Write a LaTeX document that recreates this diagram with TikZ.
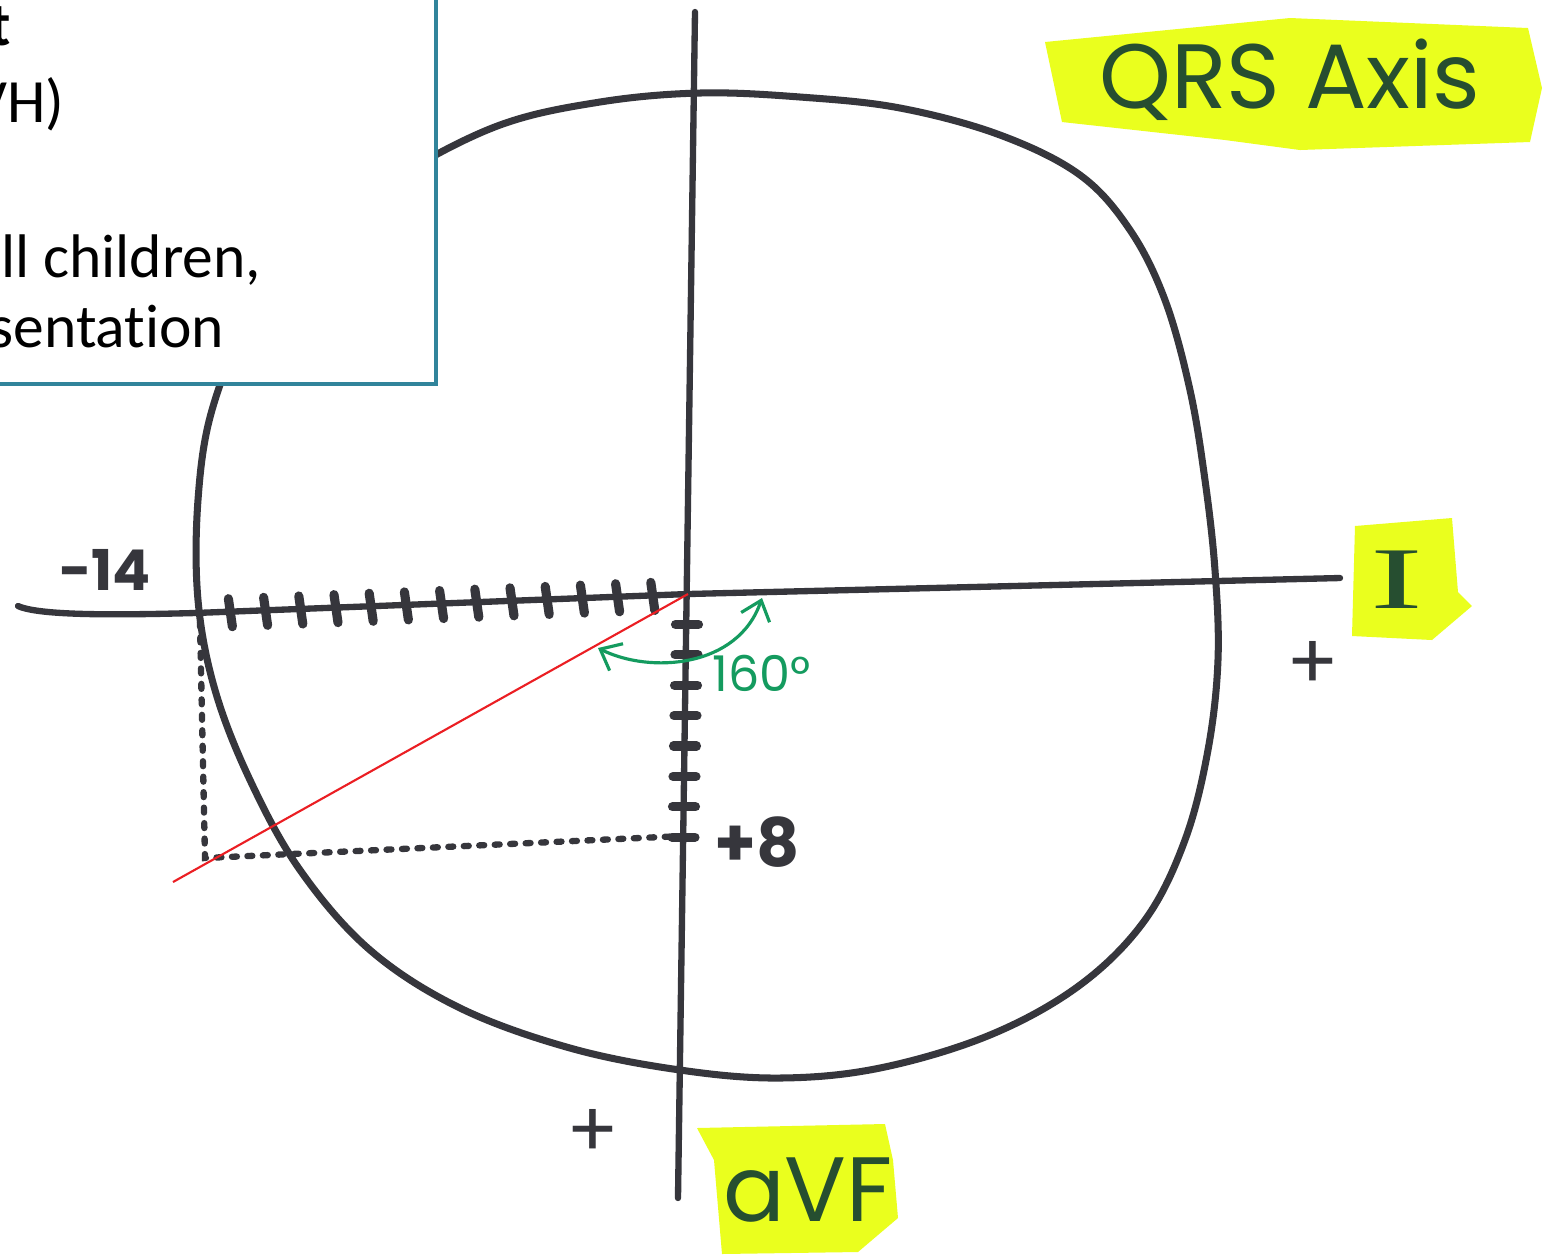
\documentclass[tikz,border=0pt]{standalone}
\usepackage{fontspec}
\setmainfont[Ligatures=CommonOff]{Carlito}
\newfontfamily\handfont{Poppins}
\newfontfamily\romanhand{Liberation Serif}
\usetikzlibrary{arrows.meta,positioning}

\definecolor{pen}{RGB}{54,54,60}
\definecolor{boxedge}{RGB}{49,132,155}
\definecolor{marker}{RGB}{234,255,30}
\definecolor{inkgreen}{RGB}{38,78,48}
\definecolor{anglegreen}{RGB}{20,155,95}
\definecolor{vectorred}{RGB}{235,30,35}

\begin{document}
\begin{tikzpicture}[
  x=0.01cm, y=-0.01cm,
  loopline/.style={draw=pen, line width=2pt, line cap=round, line join=round},
  axisline/.style={draw=pen, line width=1.8pt, line cap=round},
  tickmark/.style={draw=pen, line width=2.6pt, line cap=round},
  dotline/.style={draw=pen, line width=1.8pt, line cap=round, dash pattern=on 1.4pt off 3pt},
  vectorline/.style={draw=vectorred, line width=0.6pt},
  anglearrow/.style={draw=anglegreen, line width=0.9pt, {Straight Barb[length=1.8mm,width=3mm]}-{Straight Barb[length=1.8mm,width=3mm]}},
  highlight/.style={fill=marker, draw=none},
  infobox/.style={draw=boxedge, line width=1.15pt, fill=white, inner sep=0pt},
  boxtext/.style={font=\fontsize{17.5}{21}\selectfont, inner sep=0pt, anchor=base east},
  penlabel/.style={font=\handfont\bfseries\fontsize{16}{18}\selectfont, text=pen, inner sep=0pt},
  leadlabel/.style={font=\handfont\fontsize{26}{30}\selectfont, text=inkgreen, inner sep=0pt}
]
\useasboundingbox[fill=white] (0,0) rectangle (1547,1256);

% marker patches behind the lead names
\fill[highlight] (1045,42) -- (1290,18) -- (1528,28) -- (1542,88) -- (1530,142) -- (1300,150) -- (1225,140) -- (1062,122) -- cycle;
\fill[highlight] (1355,526) -- (1452,518) -- (1458,592) -- (1472,606) -- (1432,640) -- (1352,636) -- cycle;
\fill[highlight] (697,1128) -- (885,1124) -- (893,1160) -- (898,1218) -- (858,1252) -- (722,1254) -- (714,1160) -- cycle;

% the hexaxial loop
\draw[loopline] plot[smooth cycle, tension=0.6] coordinates {
  (700,93) (800,97) (900,108) (1000,135) (1080,175) (1130,230) (1165,300)
  (1190,390) (1205,480) (1215,570) (1218,660) (1208,750) (1185,840)
  (1145,920) (1080,985) (990,1035) (880,1068) (780,1078) (680,1070)
  (570,1048) (460,1008) (370,950) (300,870) (250,780) (215,690) (198,600)
  (198,500) (212,410) (250,320) (320,230) (400,175) (500,125) (600,102)};

% axes
\coordinate (origin) at (688,594);
\coordinate (Ileft) at (18,606);
\coordinate (Ineg) at (195,613);
\coordinate (Iright) at (1340,578);
\coordinate (aVFtop) at (695,12);
\coordinate (aVFbot) at (678,1198);
\draw[axisline] (Ileft) .. controls (40,616) and (120,615) .. (Ineg) -- (origin) -- (Iright);
\draw[axisline] (aVFtop) -- (aVFbot);

% units along lead I (negative side)
\foreach \k in {1,...,13} {
  \pgfmathsetmacro\tx{688-35.2*\k}
  \pgfmathsetmacro\ty{594+1.36*\k}
  \draw[tickmark] (\tx-2,\ty-13) -- (\tx+2,\ty+15);
}
% units along aVF (positive side)
\foreach \k in {1,...,8} {
  \pgfmathsetmacro\ty{594+30.4*\k}
  \pgfmathsetmacro\tx{687-0.5*\k}
  \draw[tickmark] (\tx-11,\ty) -- (\tx+12,\ty);
}

% projections
\coordinate (dotTop) at (200,622);
\coordinate (dotCorner) at (205,858);
\coordinate (aVFeight) at (683,836);
\draw[dotline] (dotTop) -- (dotCorner) -- (aVFeight);

% resulting vector
\coordinate (vecEnd) at (173,882);
\draw[vectorline] (origin) -- (vecEnd);

% angle
\coordinate (arcStart) at (598,648);
\coordinate (arcEnd) at (762,598);
\draw[anglearrow] (arcStart) .. controls (650,674) and (738,668) .. (arcEnd);
\node[font=\handfont\fontsize{14}{16}\selectfont, text=anglegreen, inner sep=0pt] (angle) at (762,673) {160°};

% labels
\node[penlabel] (minus14) at (105,570) {-14};
\node[penlabel, font=\handfont\bfseries\fontsize{19}{22}\selectfont] (plus8) at (757,842) {+8};
\node[penlabel, font=\handfont\fontsize{22}{24}\selectfont] (posI) at (1313,665) {+};
\node[penlabel, font=\handfont\fontsize{22}{24}\selectfont] (posaVF) at (593,1133) {+};

\node[leadlabel] (title) at (1290,80) {QRS Axis};
\node[leadlabel, font=\romanhand\fontsize{25}{28}\selectfont] (leadI) at (1397,580) {\scalebox{1.8}[1]{I}};
\node[leadlabel] (leadaVF) at (808,1190) {aVF};

% note box, cut by the page edge
\node[infobox, anchor=south east, minimum width=4.7cm, minimum height=4.1cm] (info) at (438,386) {};
\node[boxtext] (lineA) at (12,45) {\textbf{t}};
\node[boxtext] (lineB) at (65,122) {VH)};
\node[boxtext] (lineC) at (262,277) {ll children,};
\node[boxtext] (lineD) at (225,347) {sentation};
\end{tikzpicture}
\end{document}
